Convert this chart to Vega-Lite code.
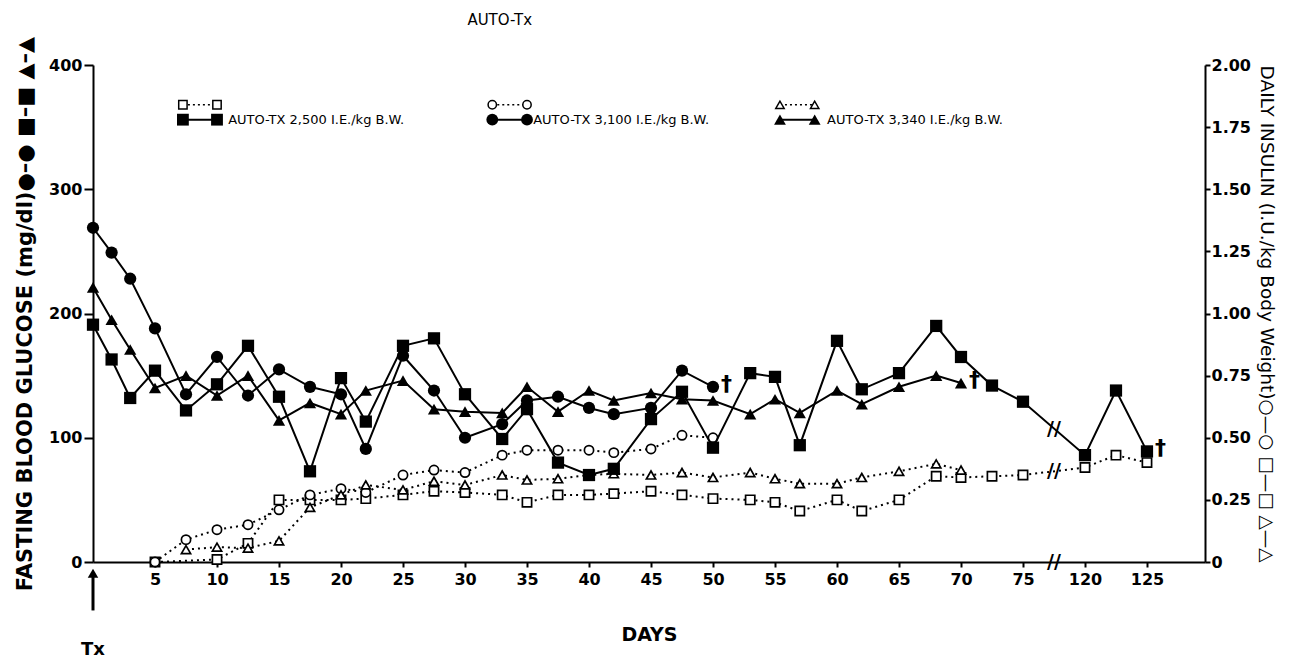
{
  "$schema": "https://vega.github.io/schema/vega-lite/v6.json",
  "width": 1112,
  "height": 497,
  "autosize": "none",
  "padding": {"left": 93, "top": 65, "right": 86, "bottom": 96},
  "background": "white",
  "config": {
    "view": {"stroke": null},
    "font": "DejaVu Sans",
    "axis": {
      "grid": false,
      "domainColor": "black",
      "domainWidth": 2,
      "tickColor": "black",
      "tickWidth": 2,
      "labelColor": "black",
      "titleColor": "black",
      "labelFont": "DejaVu Sans",
      "labelFontSize": 16,
      "labelFontWeight": "bold",
      "titleFont": "DejaVu Sans",
      "labelOverlap": false,
      "labelFlush": false
    }
  },
  "datasets": {
    "glucose": [
      {"series": "2500", "day": 0, "value": 191}, {"series": "2500", "day": 1.5, "value": 163}, {"series": "2500", "day": 3, "value": 132}, {"series": "2500", "day": 5, "value": 154}, {"series": "2500", "day": 7.5, "value": 122}, {"series": "2500", "day": 10, "value": 143}, {"series": "2500", "day": 12.5, "value": 174}, {"series": "2500", "day": 15, "value": 133}, {"series": "2500", "day": 17.5, "value": 73}, {"series": "2500", "day": 20, "value": 148}, {"series": "2500", "day": 22, "value": 113}, {"series": "2500", "day": 25, "value": 174}, {"series": "2500", "day": 27.5, "value": 180}, {"series": "2500", "day": 30, "value": 135}, {"series": "2500", "day": 33, "value": 99}, {"series": "2500", "day": 35, "value": 123}, {"series": "2500", "day": 37.5, "value": 80}, {"series": "2500", "day": 40, "value": 70}, {"series": "2500", "day": 42, "value": 75}, {"series": "2500", "day": 45, "value": 115}, {"series": "2500", "day": 47.5, "value": 137}, {"series": "2500", "day": 50, "value": 92}, {"series": "2500", "day": 53, "value": 152}, {"series": "2500", "day": 55, "value": 149}, {"series": "2500", "day": 57, "value": 94}, {"series": "2500", "day": 60, "value": 178}, {"series": "2500", "day": 62, "value": 139}, {"series": "2500", "day": 65, "value": 152}, {"series": "2500", "day": 68, "value": 190}, {"series": "2500", "day": 70, "value": 165}, {"series": "2500", "day": 72.5, "value": 142}, {"series": "2500", "day": 75, "value": 129}, {"series": "2500", "day": 120, "value": 86}, {"series": "2500", "day": 122.5, "value": 138}, {"series": "2500", "day": 125, "value": 89},
      {"series": "3100", "day": 0, "value": 269}, {"series": "3100", "day": 1.5, "value": 249}, {"series": "3100", "day": 3, "value": 228}, {"series": "3100", "day": 5, "value": 188}, {"series": "3100", "day": 7.5, "value": 135}, {"series": "3100", "day": 10, "value": 165}, {"series": "3100", "day": 12.5, "value": 134}, {"series": "3100", "day": 15, "value": 155}, {"series": "3100", "day": 17.5, "value": 141}, {"series": "3100", "day": 20, "value": 135}, {"series": "3100", "day": 22, "value": 91}, {"series": "3100", "day": 25, "value": 166}, {"series": "3100", "day": 27.5, "value": 138}, {"series": "3100", "day": 30, "value": 100}, {"series": "3100", "day": 33, "value": 111}, {"series": "3100", "day": 35, "value": 130}, {"series": "3100", "day": 37.5, "value": 133}, {"series": "3100", "day": 40, "value": 124}, {"series": "3100", "day": 42, "value": 119}, {"series": "3100", "day": 45, "value": 124}, {"series": "3100", "day": 47.5, "value": 154}, {"series": "3100", "day": 50, "value": 141},
      {"series": "3340", "day": 0, "value": 221}, {"series": "3340", "day": 1.5, "value": 195}, {"series": "3340", "day": 3, "value": 171}, {"series": "3340", "day": 5, "value": 140}, {"series": "3340", "day": 7.5, "value": 150}, {"series": "3340", "day": 10, "value": 134}, {"series": "3340", "day": 12.5, "value": 150}, {"series": "3340", "day": 15, "value": 114}, {"series": "3340", "day": 17.5, "value": 128}, {"series": "3340", "day": 20, "value": 119}, {"series": "3340", "day": 22, "value": 138}, {"series": "3340", "day": 25, "value": 146}, {"series": "3340", "day": 27.5, "value": 123}, {"series": "3340", "day": 30, "value": 121}, {"series": "3340", "day": 33, "value": 120}, {"series": "3340", "day": 35, "value": 141}, {"series": "3340", "day": 37.5, "value": 121}, {"series": "3340", "day": 40, "value": 138}, {"series": "3340", "day": 42, "value": 130}, {"series": "3340", "day": 45, "value": 136}, {"series": "3340", "day": 47.5, "value": 131}, {"series": "3340", "day": 50, "value": 130}, {"series": "3340", "day": 53, "value": 119}, {"series": "3340", "day": 55, "value": 131}, {"series": "3340", "day": 57, "value": 120}, {"series": "3340", "day": 60, "value": 138}, {"series": "3340", "day": 62, "value": 127}, {"series": "3340", "day": 65, "value": 141}, {"series": "3340", "day": 68, "value": 150}, {"series": "3340", "day": 70, "value": 144}
    ],
    "insulin": [
      {"series": "2500", "day": 5, "value": 0}, {"series": "2500", "day": 10, "value": 0.01}, {"series": "2500", "day": 12.5, "value": 0.075}, {"series": "2500", "day": 15, "value": 0.25}, {"series": "2500", "day": 17.5, "value": 0.25}, {"series": "2500", "day": 20, "value": 0.25}, {"series": "2500", "day": 22, "value": 0.255}, {"series": "2500", "day": 25, "value": 0.27}, {"series": "2500", "day": 27.5, "value": 0.285}, {"series": "2500", "day": 30, "value": 0.28}, {"series": "2500", "day": 33, "value": 0.27}, {"series": "2500", "day": 35, "value": 0.24}, {"series": "2500", "day": 37.5, "value": 0.27}, {"series": "2500", "day": 40, "value": 0.27}, {"series": "2500", "day": 42, "value": 0.275}, {"series": "2500", "day": 45, "value": 0.285}, {"series": "2500", "day": 47.5, "value": 0.27}, {"series": "2500", "day": 50, "value": 0.255}, {"series": "2500", "day": 53, "value": 0.25}, {"series": "2500", "day": 55, "value": 0.24}, {"series": "2500", "day": 57, "value": 0.205}, {"series": "2500", "day": 60, "value": 0.25}, {"series": "2500", "day": 62, "value": 0.205}, {"series": "2500", "day": 65, "value": 0.25}, {"series": "2500", "day": 68, "value": 0.345}, {"series": "2500", "day": 70, "value": 0.34}, {"series": "2500", "day": 72.5, "value": 0.345}, {"series": "2500", "day": 75, "value": 0.35}, {"series": "2500", "day": 120, "value": 0.38}, {"series": "2500", "day": 122.5, "value": 0.43}, {"series": "2500", "day": 125, "value": 0.4},
      {"series": "3100", "day": 5, "value": 0}, {"series": "3100", "day": 7.5, "value": 0.09}, {"series": "3100", "day": 10, "value": 0.13}, {"series": "3100", "day": 12.5, "value": 0.15}, {"series": "3100", "day": 15, "value": 0.21}, {"series": "3100", "day": 17.5, "value": 0.27}, {"series": "3100", "day": 20, "value": 0.295}, {"series": "3100", "day": 22, "value": 0.28}, {"series": "3100", "day": 25, "value": 0.35}, {"series": "3100", "day": 27.5, "value": 0.37}, {"series": "3100", "day": 30, "value": 0.36}, {"series": "3100", "day": 33, "value": 0.43}, {"series": "3100", "day": 35, "value": 0.45}, {"series": "3100", "day": 37.5, "value": 0.45}, {"series": "3100", "day": 40, "value": 0.45}, {"series": "3100", "day": 42, "value": 0.44}, {"series": "3100", "day": 45, "value": 0.455}, {"series": "3100", "day": 47.5, "value": 0.51}, {"series": "3100", "day": 50, "value": 0.5},
      {"series": "3340", "day": 7.5, "value": 0.05}, {"series": "3340", "day": 10, "value": 0.06}, {"series": "3340", "day": 12.5, "value": 0.056}, {"series": "3340", "day": 15, "value": 0.085}, {"series": "3340", "day": 17.5, "value": 0.22}, {"series": "3340", "day": 20, "value": 0.27}, {"series": "3340", "day": 22, "value": 0.31}, {"series": "3340", "day": 25, "value": 0.29}, {"series": "3340", "day": 27.5, "value": 0.325}, {"series": "3340", "day": 30, "value": 0.31}, {"series": "3340", "day": 33, "value": 0.35}, {"series": "3340", "day": 35, "value": 0.33}, {"series": "3340", "day": 37.5, "value": 0.335}, {"series": "3340", "day": 40, "value": 0.35}, {"series": "3340", "day": 42, "value": 0.355}, {"series": "3340", "day": 45, "value": 0.35}, {"series": "3340", "day": 47.5, "value": 0.36}, {"series": "3340", "day": 50, "value": 0.34}, {"series": "3340", "day": 53, "value": 0.36}, {"series": "3340", "day": 55, "value": 0.335}, {"series": "3340", "day": 57, "value": 0.315}, {"series": "3340", "day": 60, "value": 0.315}, {"series": "3340", "day": 62, "value": 0.34}, {"series": "3340", "day": 65, "value": 0.365}, {"series": "3340", "day": 68, "value": 0.395}, {"series": "3340", "day": 70, "value": 0.37}
    ],
    "legendOpen": [
      {"series": "2500", "day": 7.25, "value": 368}, {"series": "2500", "day": 10, "value": 368},
      {"series": "3100", "day": 32.2, "value": 368}, {"series": "3100", "day": 35, "value": 368},
      {"series": "3340", "day": 55.4, "value": 368}, {"series": "3340", "day": 58.2, "value": 368}
    ],
    "legendFilled": [
      {"series": "2500", "day": 7.25, "value": 356}, {"series": "2500", "day": 10, "value": 356},
      {"series": "3100", "day": 32.2, "value": 356}, {"series": "3100", "day": 35, "value": 356},
      {"series": "3340", "day": 55.4, "value": 356}, {"series": "3340", "day": 58.2, "value": 356}
    ],
    "legendText": [
      {"day": 10.9, "value": 356, "label": "AUTO-TX 2,500  I.E./kg B.W."},
      {"day": 35.5, "value": 356, "label": "AUTO-TX 3,100 I.E./kg B.W."},
      {"day": 59.2, "value": 356, "label": "AUTO-TX 3,340 I.E./kg B.W."}
    ],
    "chartTitle": [
      {"day": 32.8, "value": 436, "label": "AUTO-Tx"}
    ],
    "daggers": [
      {"day": 50, "value": 141}, {"day": 70, "value": 144}, {"day": 125, "value": 89}
    ],
    "breaks": [
      {"day": 77.5, "value": 0}, {"day": 77.5, "value": 107}, {"day": 77.5, "value": 73}
    ],
    "arrow": [
      {"day": 0, "value": -12, "value2": -39}
    ],
    "arrowHead": [
      {"day": 0, "value": -9}
    ],
    "tx": [
      {"day": 0, "value": -71, "label": "Tx"}
    ]
  },
  "encoding": {
    "x": {
      "field": "day",
      "type": "quantitative",
      "scale": {"domain": [0, 77.5, 117.5, 129.68], "range": [0, 961, 961, 1112], "nice": false, "zero": false},
      "axis": {
        "values": [5, 10, 15, 20, 25, 30, 35, 40, 45, 50, 55, 60, 65, 70, 75, 120, 125],
        "title": "DAYS",
        "titleFontSize": 19,
        "titleFontWeight": "bold",
        "titlePadding": 38,
        "tickSize": 5,
        "labelPadding": 4
      }
    }
  },
  "layer": [
    {
      "encoding": {
        "y": {
          "field": "value",
          "type": "quantitative",
          "scale": {"domain": [0, 2], "nice": false, "zero": true},
          "axis": {
            "orient": "right",
            "values": [0, 0.25, 0.5, 0.75, 1, 1.25, 1.5, 1.75, 2],
            "labelExpr": "datum.value === 0 ? '0' : format(datum.value, '.2f')",
            "title": "DAILY  INSULIN (I.U./kg Body Weight)○—○   □—□   △—△",
            "titleFontSize": 18.5,
            "titleFontWeight": "normal",
            "titlePadding": 6,
            "tickSize": 5,
            "labelPadding": 1
          }
        }
      },
      "layer": [
        {
          "data": {"name": "insulin"},
          "mark": {"type": "line", "color": "black", "strokeWidth": 2, "strokeDash": [2, 4]},
          "encoding": {"detail": {"field": "series"}}
        },
        {
          "data": {"name": "insulin"},
          "mark": {"type": "point", "filled": true, "fill": "white", "stroke": "black", "strokeWidth": 1.7, "size": 85, "opacity": 1},
          "encoding": {
            "shape": {"field": "series", "type": "nominal", "scale": {"domain": ["2500", "3100", "3340"], "range": ["square", "circle", "triangle-up"]}, "legend": null}
          }
        }
      ]
    },
    {
      "encoding": {
        "y": {
          "field": "value",
          "type": "quantitative",
          "scale": {"domain": [0, 400], "nice": false, "zero": true},
          "axis": {
            "orient": "left",
            "values": [0, 100, 200, 300, 400],
            "title": "FASTING  BLOOD  GLUCOSE (mg/dl)●–●  ■–■  ▲–▲",
            "titleFontSize": 21,
            "titleFontWeight": "bold",
            "titlePadding": 13,
            "tickSize": 9,
            "labelPadding": 2
          }
        }
      },
      "layer": [
        {
          "data": {"name": "glucose"},
          "mark": {"type": "line", "color": "black", "strokeWidth": 2},
          "encoding": {"detail": {"field": "series"}}
        },
        {
          "data": {"name": "glucose"},
          "mark": {"type": "point", "filled": true, "color": "black", "size": 150, "opacity": 1},
          "encoding": {
            "shape": {"field": "series", "type": "nominal", "scale": {"domain": ["2500", "3100", "3340"], "range": ["square", "circle", "triangle-up"]}, "legend": null}
          }
        },
        {
          "data": {"name": "legendOpen"},
          "mark": {"type": "line", "color": "black", "strokeWidth": 1.5, "strokeDash": [2, 3]},
          "encoding": {"detail": {"field": "series"}}
        },
        {
          "data": {"name": "legendOpen"},
          "mark": {"type": "point", "filled": true, "fill": "white", "stroke": "black", "strokeWidth": 1.5, "size": 70, "opacity": 1},
          "encoding": {
            "shape": {"field": "series", "type": "nominal", "scale": {"domain": ["2500", "3100", "3340"], "range": ["square", "circle", "triangle-up"]}, "legend": null}
          }
        },
        {
          "data": {"name": "legendFilled"},
          "mark": {"type": "line", "color": "black", "strokeWidth": 2},
          "encoding": {"detail": {"field": "series"}}
        },
        {
          "data": {"name": "legendFilled"},
          "mark": {"type": "point", "filled": true, "color": "black", "size": 140, "opacity": 1},
          "encoding": {
            "shape": {"field": "series", "type": "nominal", "scale": {"domain": ["2500", "3100", "3340"], "range": ["square", "circle", "triangle-up"]}, "legend": null}
          }
        },
        {
          "data": {"name": "legendText"},
          "mark": {"type": "text", "align": "left", "baseline": "middle", "font": "DejaVu Sans", "fontSize": 13, "color": "black"},
          "encoding": {"text": {"field": "label"}}
        },
        {
          "data": {"name": "chartTitle"},
          "mark": {"type": "text", "align": "center", "baseline": "middle", "font": "DejaVu Sans", "fontSize": 15, "color": "black"},
          "encoding": {"text": {"field": "label"}}
        },
        {
          "data": {"name": "daggers"},
          "mark": {"type": "text", "text": "†", "align": "left", "baseline": "middle", "font": "DejaVu Sans", "fontSize": 22, "fontWeight": "bold", "dx": 8, "dy": -3, "color": "black"},
          "encoding": {}
        },
        {
          "data": {"name": "breaks"},
          "mark": {"type": "text", "text": "//", "align": "center", "baseline": "middle", "font": "DejaVu Sans", "fontSize": 19, "fontWeight": "bold", "color": "black"},
          "encoding": {}
        },
        {
          "data": {"name": "arrow"},
          "mark": {"type": "rule", "color": "black", "strokeWidth": 3},
          "encoding": {"y2": {"field": "value2"}}
        },
        {
          "data": {"name": "arrowHead"},
          "mark": {"type": "point", "shape": "triangle-up", "filled": true, "color": "black", "size": 110, "opacity": 1},
          "encoding": {}
        },
        {
          "data": {"name": "tx"},
          "mark": {"type": "text", "align": "center", "baseline": "middle", "font": "DejaVu Sans", "fontSize": 18, "fontWeight": "bold", "color": "black"},
          "encoding": {"text": {"field": "label"}}
        }
      ]
    }
  ],
  "resolve": {"scale": {"y": "independent"}}
}
